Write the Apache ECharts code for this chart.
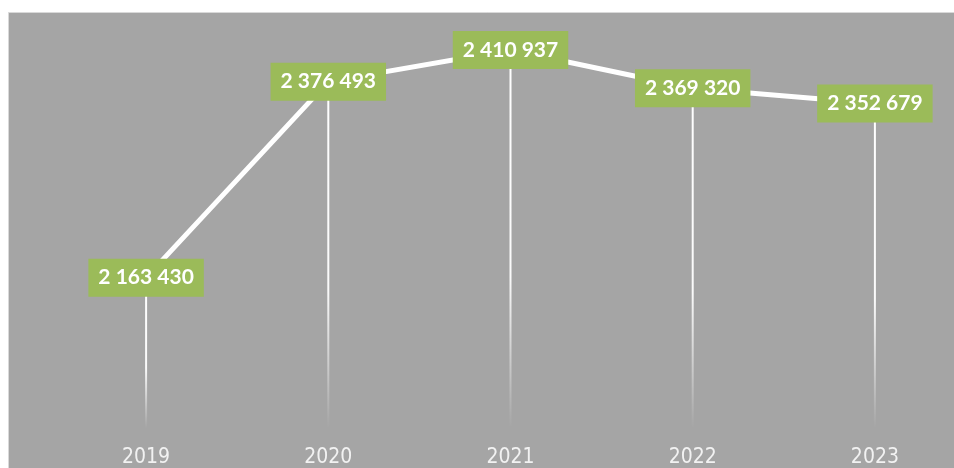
<!DOCTYPE html>
<html>
<head>
<meta charset="utf-8">
<script src="https://cdn.jsdelivr.net/npm/echarts@6/dist/echarts.min.js"></script>
<style>
  html, body { margin: 0; padding: 0; background: #fff; overflow: hidden; }
  #chart { width: 966px; height: 468px; }
</style>
</head>
<body>
<div id="chart"></div>
<script>
// lata i wartości
var years = ["2019", "2020", "2021", "2022", "2023"];
var values = [2163430, 2376493, 2410937, 2369320, 2352679];
var axisMin = 2000000;
var axisMax = 2450000;

var chart = echarts.init(document.getElementById("chart"));

function fmt(v) {
  return String(v).replace(/\B(?=(\d{3})+(?!\d))/g, " ");
}

var option = {
  animation: false,
  graphic: [
    {
      type: "rect",
      z: -10,
      silent: true,
      shape: { x: 8.5, y: 12.5, width: 970, height: 470 },
      style: { fill: "#a5a5a5", stroke: "#d9d9d9", lineWidth: 1 }
    }
  ],
  grid: {
    left: 55,
    right: 0,
    top: 14,
    bottom: 40
  },
  xAxis: {
    type: "category",
    data: years,
    axisLine: { show: false },
    axisTick: { show: false },
    axisLabel: {
      color: "#f2f2f2",
      fontFamily: "'DejaVu Sans Condensed', 'Noto Sans', sans-serif",
      fontSize: 21,
      margin: 19
    }
  },
  yAxis: {
    type: "value",
    min: axisMin,
    max: axisMax,
    show: false,
    splitLine: { show: false }
  },
  series: [
    {
      // linie pionowe od punktu do osi
      type: "bar",
      data: values,
      barWidth: 2,
      z: 1,
      itemStyle: {
        color: new echarts.graphic.LinearGradient(0, 0, 0, 1, [
          { offset: 0, color: "rgba(255,255,255,1)" },
          { offset: 0.6, color: "rgba(255,255,255,0.95)" },
          { offset: 1, color: "rgba(255,255,255,0)" }
        ])
      }
    },
    {
      type: "line",
      data: values,
      z: 5,
      symbol: "circle",
      symbolSize: 0,
      lineStyle: { color: "#ffffff", width: 5 },
      itemStyle: { color: "#ffffff" },
      label: {
        show: true,
        position: "inside",
        formatter: function (p) { return fmt(p.value); },
        backgroundColor: "#9bbb59",
        color: "#ffffff",
        fontFamily: "Lato",
        fontWeight: "bold",
        fontSize: 21,
        padding: [9, 10, 8, 10]
      }
    }
  ]
};

chart.setOption(option, true);
</script>
</body>
</html>
